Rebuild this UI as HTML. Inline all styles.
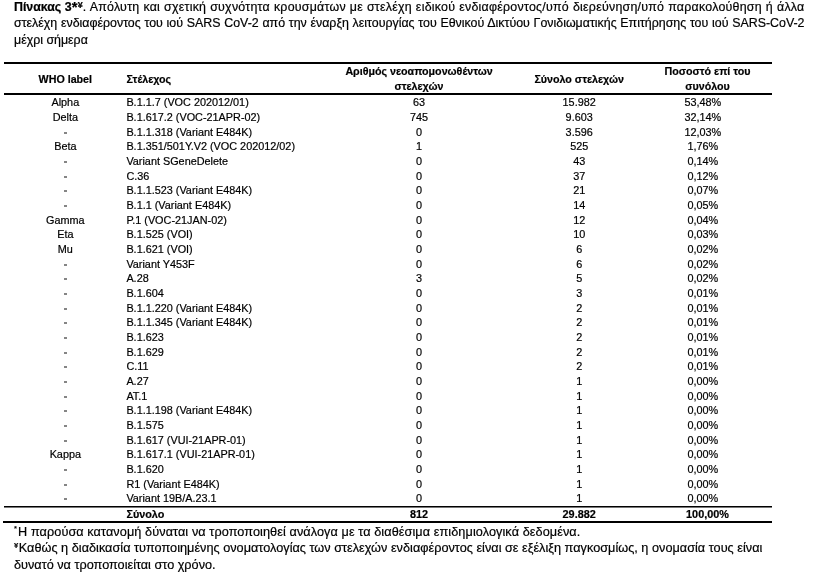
<!DOCTYPE html>
<html><head><meta charset="utf-8">
<style>
html,body{margin:0;padding:0;background:#fff;}
.wrap{position:absolute;left:0;top:0;width:814px;height:584px;will-change:transform;}
body{width:814px;height:584px;position:relative;overflow:hidden;font-family:"Liberation Sans",sans-serif;color:#000;-webkit-text-stroke:0.2px #000;}
.c,.l{position:absolute;white-space:nowrap;font-size:10.85px;line-height:14.68px;height:14.68px;}
.c{width:300px;text-align:center;}
.b{font-weight:bold;}
.hb{font-size:10.7px;}
.rule{position:absolute;background:#000;}
.dash{position:absolute;left:64px;width:3px;height:2px;background:#858585;}
.tl{position:absolute;left:14px;width:790.5px;font-size:12.4px;line-height:16px;height:16px;white-space:nowrap;text-align:justify;text-align-last:justify;}
.tl3{text-align-last:left;}
.fn{position:absolute;left:14px;font-size:12.7px;line-height:16px;white-space:nowrap;}
sup{font-size:60%;vertical-align:0;position:relative;}
</style></head><body><div class="wrap">
<div class="tl" style="top:-1px;letter-spacing:0.25px"><b style="letter-spacing:-0.05px">Πίνακας 3<span style="font-size:120%;line-height:0;position:relative;top:1px">*</span><sup style="top:-3.5px;line-height:0;font-size:72%;margin-left:0.5px">¥</sup></b>. Απόλυτη και σχετική συχνότητα κρουσμάτων με στελέχη ειδικού ενδιαφέροντος/υπό διερεύνηση/υπό παρακολούθηση ή άλλα</div>
<div class="tl" style="top:15.3px">στελέχη ενδιαφέροντος του ιού SARS CoV-2 από την έναρξη λειτουργίας του Εθνικού Δικτύου Γονιδιωματικής Επιτήρησης του ιού SARS-CoV-2</div>
<div class="tl tl3" style="top:31.6px">μέχρι σήμερα</div>

<div class="rule" style="left:4px;width:768px;top:62px;height:2px"></div>
<div class="rule" style="left:4px;width:768px;top:93px;height:2px"></div>
<div class="rule" style="left:4px;width:768px;top:506px;height:1px"></div><div class="rule" style="left:4px;width:768px;top:507px;height:1px;background:#777"></div>
<div class="rule" style="left:3px;width:769px;top:521px;height:2px"></div>

<div class="c b hb" style="left:-84.70px;top:71.50px">WHO label</div>
<div class="l b hb" style="left:126.40px;top:71.50px">Στέλεχος</div>
<div class="c b hb" style="left:269.00px;top:63.50px">Αριθμός νεοαπομονωθέντων</div>
<div class="c b hb" style="left:269.00px;top:78.50px">στελεχών</div>
<div class="c b hb" style="left:429.20px;top:71.50px">Σύνολο στελεχών</div>
<div class="c b hb" style="left:557.50px;top:63.50px">Ποσοστό επί του</div>
<div class="c b hb" style="left:557.50px;top:78.50px">συνόλου</div>

<div class="c " style="left:-84.70px;top:95.00px">Alpha</div>
<div class="l " style="left:126.40px;top:95.00px">B.1.1.7 (VOC 202012/01)</div>
<div class="c " style="left:269.00px;top:95.00px">63</div>
<div class="c " style="left:429.20px;top:95.00px">15.982</div>
<div class="c " style="left:552.80px;top:95.00px">53,48%</div>
<div class="c " style="left:-84.70px;top:110.00px">Delta</div>
<div class="l " style="left:126.40px;top:110.00px">B.1.617.2 (VOC-21APR-02)</div>
<div class="c " style="left:269.00px;top:110.00px">745</div>
<div class="c " style="left:429.20px;top:110.00px">9.603</div>
<div class="c " style="left:552.80px;top:110.00px">32,14%</div>
<div class="dash" style="top:132px"></div>
<div class="l " style="left:126.40px;top:125.00px">B.1.1.318 (Variant E484K)</div>
<div class="c " style="left:269.00px;top:125.00px">0</div>
<div class="c " style="left:429.20px;top:125.00px">3.596</div>
<div class="c " style="left:552.80px;top:125.00px">12,03%</div>
<div class="c " style="left:-84.70px;top:139.00px">Beta</div>
<div class="l " style="left:126.40px;top:139.00px">B.1.351/501Y.V2 (VOC 202012/02)</div>
<div class="c " style="left:269.00px;top:139.00px">1</div>
<div class="c " style="left:429.20px;top:139.00px">525</div>
<div class="c " style="left:552.80px;top:139.00px">1,76%</div>
<div class="dash" style="top:161px"></div>
<div class="l " style="left:126.40px;top:154.00px">Variant SGeneDelete</div>
<div class="c " style="left:269.00px;top:154.00px">0</div>
<div class="c " style="left:429.20px;top:154.00px">43</div>
<div class="c " style="left:552.80px;top:154.00px">0,14%</div>
<div class="dash" style="top:176px"></div>
<div class="l " style="left:126.40px;top:169.00px">C.36</div>
<div class="c " style="left:269.00px;top:169.00px">0</div>
<div class="c " style="left:429.20px;top:169.00px">37</div>
<div class="c " style="left:552.80px;top:169.00px">0,12%</div>
<div class="dash" style="top:190px"></div>
<div class="l " style="left:126.40px;top:183.00px">B.1.1.523 (Variant E484K)</div>
<div class="c " style="left:269.00px;top:183.00px">0</div>
<div class="c " style="left:429.20px;top:183.00px">21</div>
<div class="c " style="left:552.80px;top:183.00px">0,07%</div>
<div class="dash" style="top:205px"></div>
<div class="l " style="left:126.40px;top:198.00px">B.1.1 (Variant E484K)</div>
<div class="c " style="left:269.00px;top:198.00px">0</div>
<div class="c " style="left:429.20px;top:198.00px">14</div>
<div class="c " style="left:552.80px;top:198.00px">0,05%</div>
<div class="c " style="left:-84.70px;top:213.00px">Gamma</div>
<div class="l " style="left:126.40px;top:213.00px">P.1 (VOC-21JAN-02)</div>
<div class="c " style="left:269.00px;top:213.00px">0</div>
<div class="c " style="left:429.20px;top:213.00px">12</div>
<div class="c " style="left:552.80px;top:213.00px">0,04%</div>
<div class="c " style="left:-84.70px;top:227.00px">Eta</div>
<div class="l " style="left:126.40px;top:227.00px">B.1.525 (VOI)</div>
<div class="c " style="left:269.00px;top:227.00px">0</div>
<div class="c " style="left:429.20px;top:227.00px">10</div>
<div class="c " style="left:552.80px;top:227.00px">0,03%</div>
<div class="c " style="left:-84.70px;top:242.00px">Mu</div>
<div class="l " style="left:126.40px;top:242.00px">B.1.621 (VOI)</div>
<div class="c " style="left:269.00px;top:242.00px">0</div>
<div class="c " style="left:429.20px;top:242.00px">6</div>
<div class="c " style="left:552.80px;top:242.00px">0,02%</div>
<div class="dash" style="top:264px"></div>
<div class="l " style="left:126.40px;top:257.00px">Variant Y453F</div>
<div class="c " style="left:269.00px;top:257.00px">0</div>
<div class="c " style="left:429.20px;top:257.00px">6</div>
<div class="c " style="left:552.80px;top:257.00px">0,02%</div>
<div class="dash" style="top:278px"></div>
<div class="l " style="left:126.40px;top:271.00px">A.28</div>
<div class="c " style="left:269.00px;top:271.00px">3</div>
<div class="c " style="left:429.20px;top:271.00px">5</div>
<div class="c " style="left:552.80px;top:271.00px">0,02%</div>
<div class="dash" style="top:293px"></div>
<div class="l " style="left:126.40px;top:286.00px">B.1.604</div>
<div class="c " style="left:269.00px;top:286.00px">0</div>
<div class="c " style="left:429.20px;top:286.00px">3</div>
<div class="c " style="left:552.80px;top:286.00px">0,01%</div>
<div class="dash" style="top:308px"></div>
<div class="l " style="left:126.40px;top:301.00px">B.1.1.220 (Variant E484K)</div>
<div class="c " style="left:269.00px;top:301.00px">0</div>
<div class="c " style="left:429.20px;top:301.00px">2</div>
<div class="c " style="left:552.80px;top:301.00px">0,01%</div>
<div class="dash" style="top:322px"></div>
<div class="l " style="left:126.40px;top:315.00px">B.1.1.345 (Variant E484K)</div>
<div class="c " style="left:269.00px;top:315.00px">0</div>
<div class="c " style="left:429.20px;top:315.00px">2</div>
<div class="c " style="left:552.80px;top:315.00px">0,01%</div>
<div class="dash" style="top:337px"></div>
<div class="l " style="left:126.40px;top:330.00px">B.1.623</div>
<div class="c " style="left:269.00px;top:330.00px">0</div>
<div class="c " style="left:429.20px;top:330.00px">2</div>
<div class="c " style="left:552.80px;top:330.00px">0,01%</div>
<div class="dash" style="top:352px"></div>
<div class="l " style="left:126.40px;top:345.00px">B.1.629</div>
<div class="c " style="left:269.00px;top:345.00px">0</div>
<div class="c " style="left:429.20px;top:345.00px">2</div>
<div class="c " style="left:552.80px;top:345.00px">0,01%</div>
<div class="dash" style="top:366px"></div>
<div class="l " style="left:126.40px;top:359.00px">C.11</div>
<div class="c " style="left:269.00px;top:359.00px">0</div>
<div class="c " style="left:429.20px;top:359.00px">2</div>
<div class="c " style="left:552.80px;top:359.00px">0,01%</div>
<div class="dash" style="top:381px"></div>
<div class="l " style="left:126.40px;top:374.00px">A.27</div>
<div class="c " style="left:269.00px;top:374.00px">0</div>
<div class="c " style="left:429.20px;top:374.00px">1</div>
<div class="c " style="left:552.80px;top:374.00px">0,00%</div>
<div class="dash" style="top:396px"></div>
<div class="l " style="left:126.40px;top:389.00px">AT.1</div>
<div class="c " style="left:269.00px;top:389.00px">0</div>
<div class="c " style="left:429.20px;top:389.00px">1</div>
<div class="c " style="left:552.80px;top:389.00px">0,00%</div>
<div class="dash" style="top:410px"></div>
<div class="l " style="left:126.40px;top:403.00px">B.1.1.198 (Variant E484K)</div>
<div class="c " style="left:269.00px;top:403.00px">0</div>
<div class="c " style="left:429.20px;top:403.00px">1</div>
<div class="c " style="left:552.80px;top:403.00px">0,00%</div>
<div class="dash" style="top:425px"></div>
<div class="l " style="left:126.40px;top:418.00px">B.1.575</div>
<div class="c " style="left:269.00px;top:418.00px">0</div>
<div class="c " style="left:429.20px;top:418.00px">1</div>
<div class="c " style="left:552.80px;top:418.00px">0,00%</div>
<div class="dash" style="top:440px"></div>
<div class="l " style="left:126.40px;top:433.00px">B.1.617 (VUI-21APR-01)</div>
<div class="c " style="left:269.00px;top:433.00px">0</div>
<div class="c " style="left:429.20px;top:433.00px">1</div>
<div class="c " style="left:552.80px;top:433.00px">0,00%</div>
<div class="c " style="left:-84.70px;top:447.00px">Kappa</div>
<div class="l " style="left:126.40px;top:447.00px">B.1.617.1 (VUI-21APR-01)</div>
<div class="c " style="left:269.00px;top:447.00px">0</div>
<div class="c " style="left:429.20px;top:447.00px">1</div>
<div class="c " style="left:552.80px;top:447.00px">0,00%</div>
<div class="dash" style="top:469px"></div>
<div class="l " style="left:126.40px;top:462.00px">B.1.620</div>
<div class="c " style="left:269.00px;top:462.00px">0</div>
<div class="c " style="left:429.20px;top:462.00px">1</div>
<div class="c " style="left:552.80px;top:462.00px">0,00%</div>
<div class="dash" style="top:484px"></div>
<div class="l " style="left:126.40px;top:477.00px">R1 (Variant E484K)</div>
<div class="c " style="left:269.00px;top:477.00px">0</div>
<div class="c " style="left:429.20px;top:477.00px">1</div>
<div class="c " style="left:552.80px;top:477.00px">0,00%</div>
<div class="dash" style="top:498px"></div>
<div class="l " style="left:126.40px;top:491.00px">Variant 19B/A.23.1</div>
<div class="c " style="left:269.00px;top:491.00px">0</div>
<div class="c " style="left:429.20px;top:491.00px">1</div>
<div class="c " style="left:552.80px;top:491.00px">0,00%</div>

<div class="l b" style="left:126.40px;top:506.50px">Σύνολο</div>
<div class="c b" style="left:269.00px;top:506.50px">812</div>
<div class="c b" style="left:429.20px;top:506.50px">29.882</div>
<div class="c b" style="left:557.50px;top:506.50px">100,00%</div>

<div class="fn" style="top:523.5px;letter-spacing:0.08px"><sup style="top:-5px;margin-right:1px">*</sup>Η παρούσα κατανομή δύναται να τροποποιηθεί ανάλογα με τα διαθέσιμα επιδημιολογικά δεδομένα.</div>
<div class="fn" style="top:540.0px;letter-spacing:0.017px"><sup style="top:-4px;font-weight:bold;margin-right:0.5px">¥</sup>Καθώς η διαδικασία τυποποιημένης ονοματολογίας των στελεχών ενδιαφέροντος είναι σε εξέλιξη παγκοσμίως, η ονομασία τους είναι</div>
<div class="fn" style="top:556.5px">δυνατό να τροποποιείται στο χρόνο.</div>
</div></body></html>
